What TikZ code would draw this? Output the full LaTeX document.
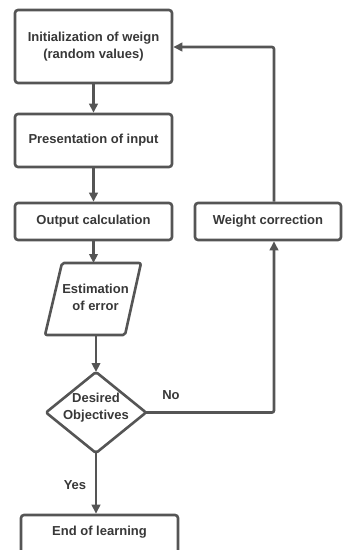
\documentclass[tikz,border=0pt]{standalone}
\usepackage{fontspec}
\setmainfont{Liberation Sans}
\usetikzlibrary{shapes.geometric,arrows.meta}
\definecolor{ln}{HTML}{555555}
\definecolor{tx}{HTML}{383838}
\begin{document}
\begin{tikzpicture}[x=1pt,y=-1pt,
  box/.style={draw=ln, line width=2.6pt, rounded corners=3pt, rectangle, inner sep=0pt},
  lbl/.style={text=tx, font=\bfseries\fontsize{13}{17}\selectfont, align=center, inner sep=0pt},
  arr/.style={draw=ln, line width=2.6pt, -{Triangle[length=9pt,width=8.5pt]}},
  shp/.style={draw=ln, line width=2.6pt, rounded corners=2pt, line join=round}]
\useasboundingbox (0,0) rectangle (343,550);
\fill[white] (0,0) rectangle (343,550);
\node[box, minimum width=157pt, minimum height=73pt] (b1) at (93.5,46.5) {};
\node[lbl] (t1) at (b1) {Initialization of weign\\(random values)};
\node[box, minimum width=157pt, minimum height=53pt] (b2) at (93.5,140.5) {};
\node[lbl] (t2) at (b2) {Presentation of input};
\node[box, minimum width=157pt, minimum height=37pt] (b3) at (93.5,221.5) {};
\node[lbl] (t3) at (b3) {Output calculation};
\node[box, minimum width=146pt, minimum height=37pt] (wc) at (268,221.5) {};
\node[lbl] (t4) at (wc) {Weight correction};
% parallelogram
\coordinate (estN) at (93.5,263);
\coordinate (estS) at (96,335);
\draw[shp] (62,263) -- (141,263) -- (125,335) -- (45,335) -- cycle;
\node[lbl] (t5) at (95.5,297) {Estimation\\of error};
% diamond
\coordinate (dN) at (96,372);
\coordinate (dS) at (96,453);
\coordinate (dE) at (146,412.5);
\draw[shp] (dN) -- (dE) -- (dS) -- (46,412.5) -- cycle;
\node[lbl] (t6) at (96,408) {Desired\\Objectives};
\node[box, minimum width=157pt, minimum height=38pt] (end) at (99.5,534) {};
\node[lbl] (t7) at (99.5,532) {End of learning};
\node[lbl] (no) at (171,395) {No};
\node[lbl] (yes) at (75,485) {Yes};
\coordinate (tr) at (274,47);
\coordinate (br) at (274,412.5);
\draw[arr] (b1) -- (b2);
\draw[arr] (b2) -- (b3);
\draw[arr] (b3.south) -- (estN);
\draw[arr] (estS) -- (dN);
\draw[arr] (dS) -- (dS |- end.north);
\draw[arr, rounded corners=2pt] (dE) -- (br) -- (br |- wc.south);
\draw[arr, rounded corners=2pt] (wc.north -| tr) -- (tr) -- (tr -| b1.east);
\end{tikzpicture}
\end{document}
